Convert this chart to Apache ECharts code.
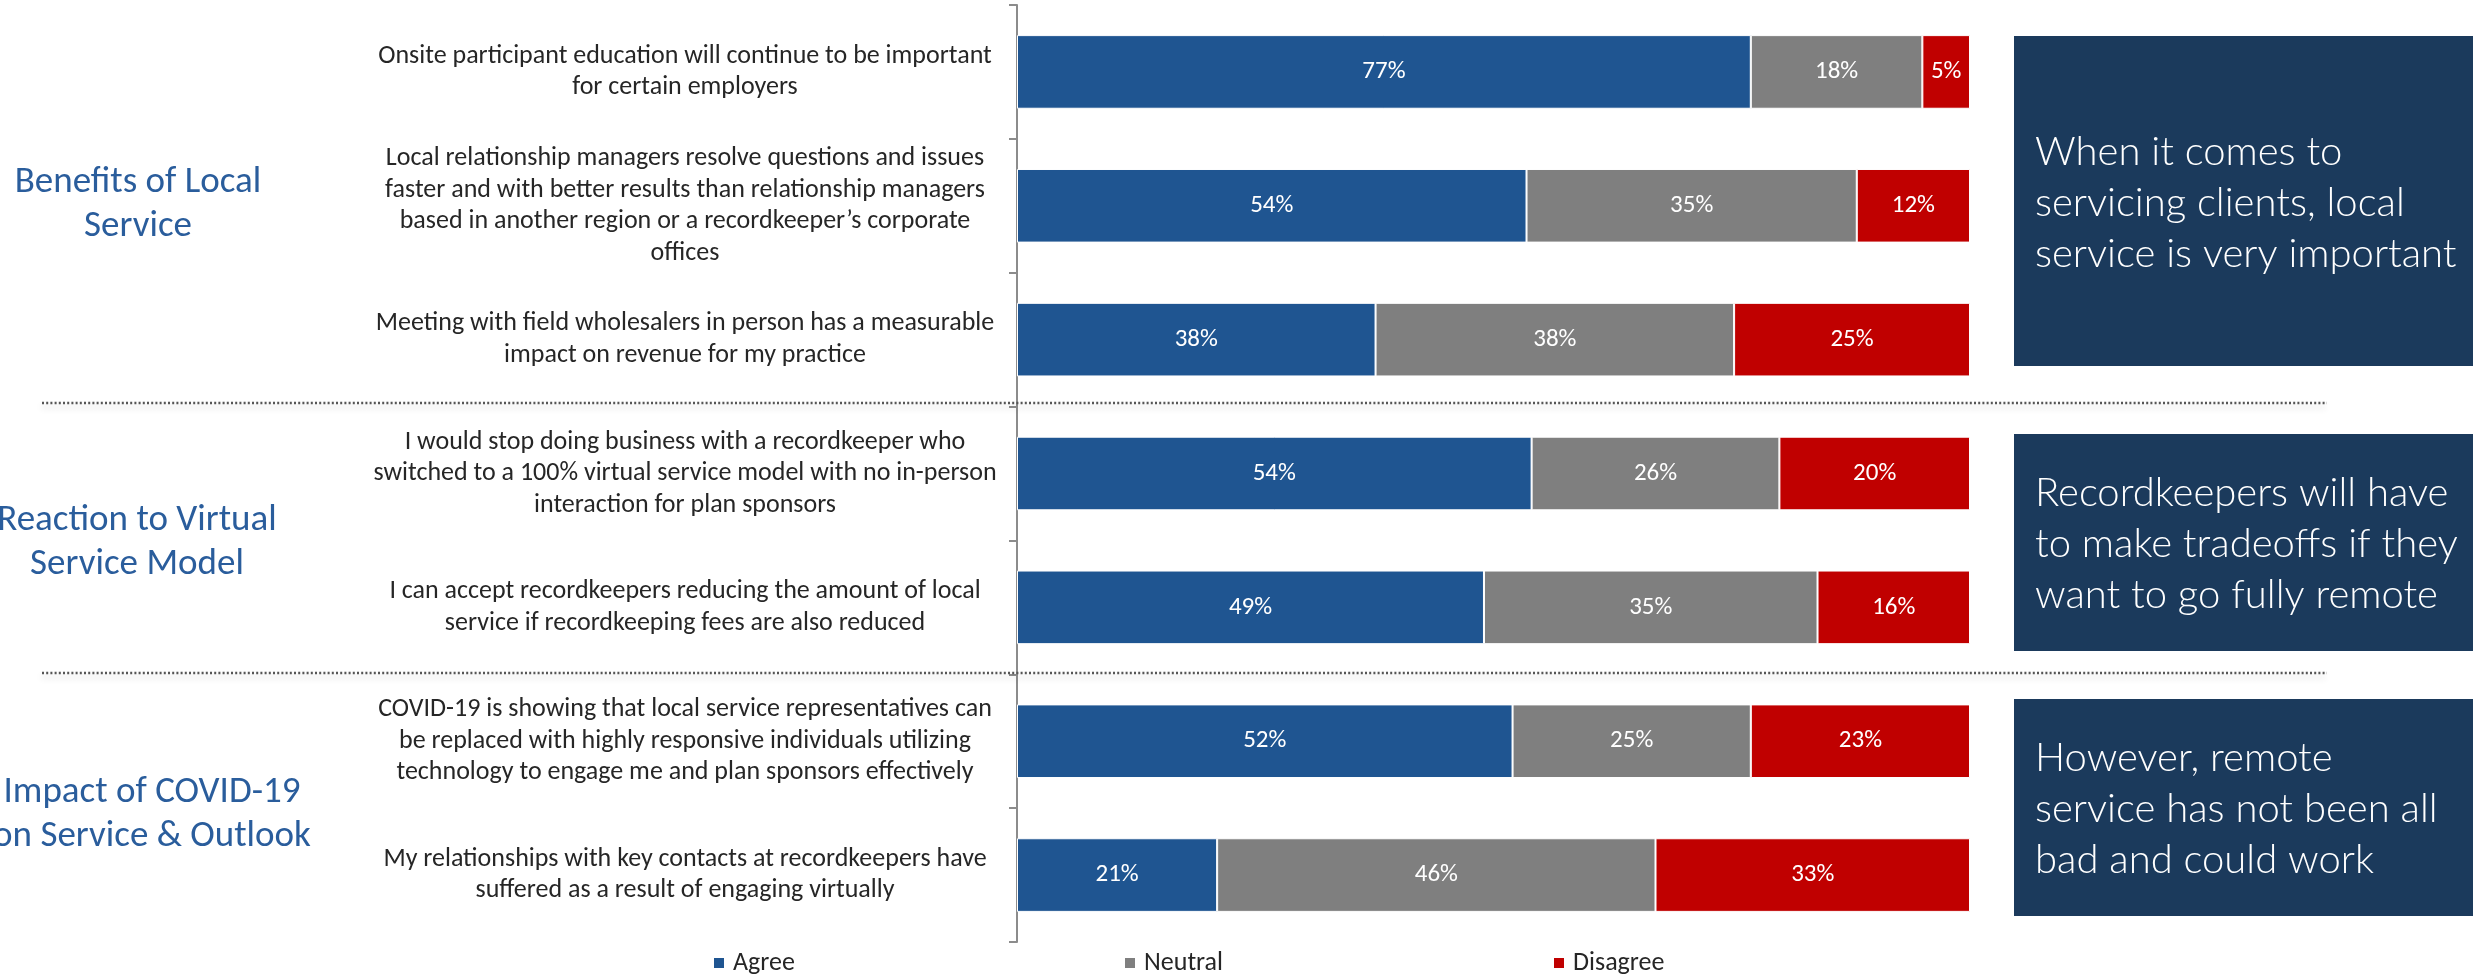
<!DOCTYPE html>
<html>
<head>
<meta charset="utf-8">
<script src="https://cdn.jsdelivr.net/npm/echarts@6/dist/echarts.min.js"></script>
<style>
html,body{margin:0;padding:0;background:#fff;}
#chart{width:2473px;height:977px;}
</style>
</head>
<body>
<div id="chart"></div>
<script>
const categories = [
  'Onsite participant education will continue to be important\nfor certain employers',
  'Local relationship managers resolve questions and issues\nfaster and with better results than relationship managers\nbased in another region or a recordkeeper\u2019s corporate\noffices',
  'Meeting with field wholesalers in person has a measurable\nimpact on revenue for my practice',
  'I would stop doing business with a recordkeeper who\nswitched to a 100% virtual service model with no in-person\ninteraction for plan sponsors',
  'I can accept recordkeepers reducing the amount of local\nservice if recordkeeping fees are also reduced',
  'COVID-19 is showing that local service representatives can\nbe replaced with highly responsive individuals utilizing\ntechnology to engage me and plan sponsors effectively',
  'My relationships with key contacts at recordkeepers have\nsuffered as a result of engaging virtually'
];
const seriesNames = ['Agree', 'Neutral', 'Disagree'];
const agree    = [77, 54, 38, 54, 49, 52, 21];
const neutral  = [18, 35, 38, 26, 35, 25, 46];
const disagree = [5, 12, 25, 20, 16, 23, 33];
const groupLabels = ['Benefits of Local\nService', 'Reaction to Virtual\nService Model', 'Impact of COVID-19\non Service & Outlook'];
const takeaways = [
  'When it comes to\nservicing clients, local\nservice is very important',
  'Recordkeepers will have\nto make tradeoffs if they\nwant to go fully remote',
  'However, remote\nservice has not been all\nbad and could work'
];

const colors = ['#1F5591', '#7F7F7F', '#C00000'];
const FONT = "Carlito, 'Liberation Sans Narrow', 'Open Sans', sans-serif";
const raw = [agree, neutral, disagree];
const sums = categories.map((_, i) => agree[i] + neutral[i] + disagree[i]);

const chart = echarts.init(document.getElementById('chart'));

const series = raw.map((arr, s) => ({
  name: seriesNames[s],
  type: 'bar',
  stack: 'total',
  barWidth: '55%',
  data: arr.map((v, i) => ({ value: v / sums[i] * 100, shown: v })),
  itemStyle: { color: colors[s], borderColor: '#ffffff', borderWidth: 1 },
  label: {
    show: true, position: 'inside', color: '#ffffff',
    fontFamily: FONT, fontSize: 25,
    formatter: p => p.data.shown + '%'
  },
  emphasis: { disabled: true },
  silent: true
}));

const legends = seriesNames.map((n, s) => ({
  data: [n],
  left: [712, 1123, 1552][s],
  top: 950,
  padding: 0,
  icon: 'rect',
  itemWidth: 12, itemHeight: 12,
  itemGap: 0,
  selectedMode: false,
  textStyle: { fontFamily: FONT, fontSize: 26, color: '#262626', padding: [0, 0, 0, 3] }
}));

const boxes = [[36, 330], [434, 217], [699, 217]];
const boxTextY = [203, 544, 809];
const graphics = [];
boxes.forEach((b, i) => {
  graphics.push({ type: 'rect', left: 2014, top: b[0], shape: { width: 459, height: b[1] }, style: { fill: '#1B3A5C' }, silent: true });
  graphics.push({ type: 'text', x: 2035, y: boxTextY[i], style: {
    text: takeaways[i], fill: '#ffffff', font: "300 40px Lato, 'Open Sans', sans-serif",
    lineHeight: 51, textAlign: 'left', textVerticalAlign: 'middle'
  }, silent: true });
});
const groupPos = [[138, 205], [137, 543], [152, 815]];
groupLabels.forEach((t, i) => {
  graphics.push({ type: 'text', x: groupPos[i][0], y: groupPos[i][1], style: {
    text: t, fill: '#2A5D9C', fontFamily: FONT, fontSize: 37, lineHeight: 44,
    textAlign: 'center', textVerticalAlign: 'middle'
  }, silent: true });
});
[403, 673].forEach(y => {
  graphics.push({ type: 'line', shape: { x1: 42, y1: y, x2: 2327, y2: y }, z: 10,
    style: { stroke: '#555555', lineWidth: 2.5, lineDash: [2, 2.2],
      shadowBlur: 6, shadowColor: 'rgba(0,0,0,0.22)', shadowOffsetY: 4 }, silent: true });
});

chart.setOption({
  animation: false,
  backgroundColor: '#ffffff',
  legend: legends,
  grid: { left: 1017, top: 5, width: 953, height: 937, containLabel: false },
  xAxis: { type: 'value', min: 0, max: 100, show: false },
  yAxis: {
    type: 'category', inverse: true, data: categories,
    axisLine: { show: true, lineStyle: { color: '#8C8C8C', width: 2 } },
    axisTick: { show: true, length: 8, lineStyle: { color: '#8C8C8C', width: 2 } },
    splitLine: { show: false },
    axisLabel: {
      color: '#262626', fontFamily: FONT, fontSize: 26, lineHeight: 31.5,
      align: 'center', margin: 332
    }
  },
  series: series,
  graphic: graphics
});
</script>
</body>
</html>
